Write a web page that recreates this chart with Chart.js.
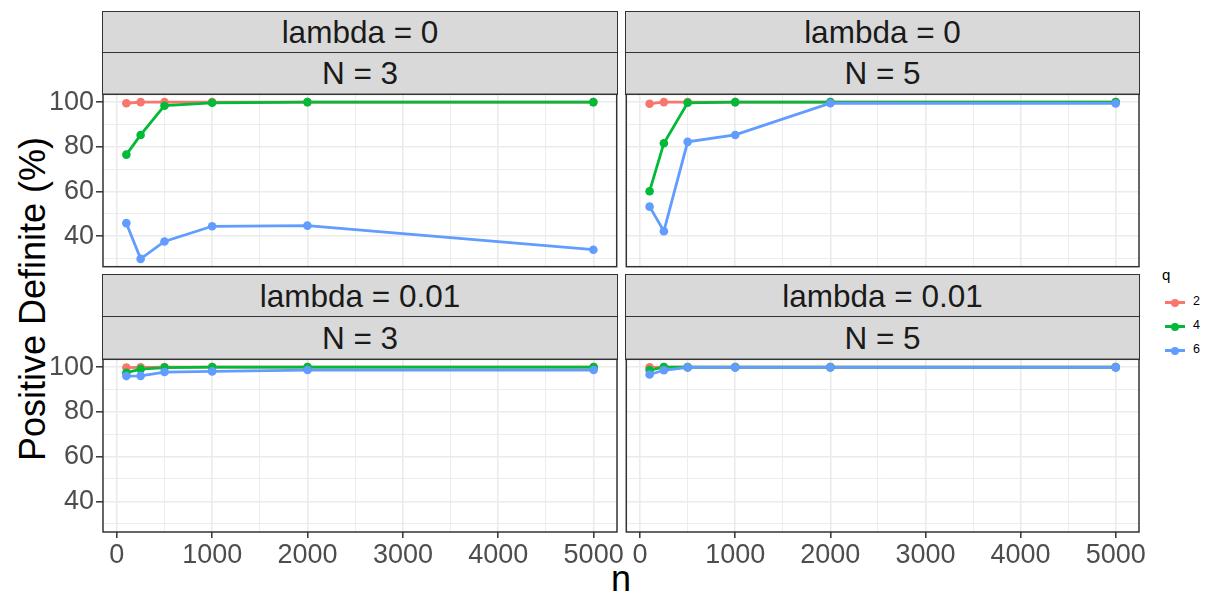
<!DOCTYPE html>
<html>
<head>
<meta charset="utf-8">
<script src="https://cdn.jsdelivr.net/npm/chart.js@4.4.0/dist/chart.umd.min.js"></script>
<style>
  body { margin: 0; background: #fff; width: 1205px; height: 596px; position: relative; overflow: hidden;
         font-family: "Liberation Sans", Arial, sans-serif; }
  canvas { position: absolute; }
  .strip { position: absolute; background: #D9D9D9; border: 1.5px solid #333; box-sizing: border-box;
           color: #1A1A1A; font-size: 31.5px; display: flex; align-items: center; justify-content: center; }
  .title { position: absolute; color: #000; font-size: 36px; white-space: nowrap; }
  .legend { position: absolute; left: 1158px; top: 266px; font-size: 12.5px; color: #000; }
  .legend .lt { font-size: 15px; margin-left: 4px; margin-bottom: 8px; }
  .legend .item { position: relative; height: 24px; }
  .legend .ln { position: absolute; left: 7px; top: 10px; width: 20px; height: 3px; }
  .legend .pt { position: absolute; left: 13px; top: 7.5px; width: 8px; height: 8px; border-radius: 50%; }
  .legend .lb { position: absolute; left: 35px; top: 3px; }
</style>
</head>
<body>
<div class="title" style="left:33px; top:299px; transform: translate(-50%,-50%) rotate(-90deg);">Positive Definite (%)</div>
<div class="title" style="left:621px; top:579px; transform: translate(-50%,-50%);">n</div>
<div class="legend" id="legend"><div class="lt">q</div></div>
<script>
// sample sizes on the x axis
const nValues = [100, 250, 500, 1000, 2000, 5000];
const qLevels = ['2', '4', '6'];
const qColors = ['#F8766D', '#00BA38', '#619CFF'];
const lambdaLabels = ['lambda = 0', 'lambda = 0.01'];
const NLabels = ['N = 3', 'N = 5'];

const xMajor = [0, 1000, 2000, 3000, 4000, 5000];
const xMinor = [500, 1500, 2500, 3500, 4500];
const yMajor = [40, 60, 80, 100];
const yMinor = [30, 50, 70, 90];

// lambda = 0, N = 3
const l0n3q2 = [99.5, 100, 100, 100, 100, 100];
const l0n3q4 = [76.5, 85.3, 98.4, 99.7, 100, 100];
const l0n3q6 = [45.8, 29.8, 37.6, 44.4, 44.7, 33.9];
// lambda = 0, N = 5
const l0n5q2 = [99.3, 100, 100, 100, 100, 100];
const l0n5q4 = [60.1, 81.6, 99.7, 100, 100, 100];
const l0n5q6 = [53.2, 42.2, 82.2, 85.3, 99.5, 99.4];
// lambda = 0.01, N = 3
const l1n3q2 = [99.8, 99.9, 100, 100, 100, 100];
const l1n3q4 = [97.5, 99.1, 99.8, 100, 100, 100];
const l1n3q6 = [96.0, 96.1, 97.8, 98.1, 98.7, 98.7];
// lambda = 0.01, N = 5
const l1n5q2 = [99.9, 100, 100, 100, 100, 100];
const l1n5q4 = [98.7, 100, 100, 100, 100, 100];
const l1n5q6 = [96.7, 98.6, 99.9, 99.9, 99.9, 99.9];

const panels = [
  { row: 0, col: 0, lambda: lambdaLabels[0], N: NLabels[0], series: [l0n3q2, l0n3q4, l0n3q6] },
  { row: 0, col: 1, lambda: lambdaLabels[0], N: NLabels[1], series: [l0n5q2, l0n5q4, l0n5q6] },
  { row: 1, col: 0, lambda: lambdaLabels[1], N: NLabels[0], series: [l1n3q2, l1n3q4, l1n3q6] },
  { row: 1, col: 1, lambda: lambdaLabels[1], N: NLabels[1], series: [l1n5q2, l1n5q4, l1n5q6] }
];

// panel geometry (px)
const colX = [[103, 617], [626, 1139]];
const rowY = [[12, 94, 267], [275, 359, 532]];

Chart.defaults.font.family = "'Liberation Sans', Arial, sans-serif";
Chart.defaults.animation = false;

const borderPlugin = {
  id: 'panelBorder',
  afterDraw: (chart) => {
    const a = chart.chartArea;
    const ctx = chart.ctx;
    ctx.save();
    ctx.strokeStyle = '#333333';
    ctx.lineWidth = 1.5;
    ctx.strokeRect(a.left, a.top, a.right - a.left, a.bottom - a.top);
    ctx.restore();
  }
};

const gridColor = '#EBEBEB';

const makePanel = (p) => {
  const [L, R] = colX[p.col];
  const [stripTop, plotTop, plotBottom] = rowY[p.row];
  const sh = (plotTop - stripTop) / 2;

  // strips
  [p.lambda, p.N].forEach((txt, i) => {
    const s = document.createElement('div');
    s.className = 'strip';
    s.style.left = (L - 0.75) + 'px';
    s.style.width = (R - L + 1.5) + 'px';
    s.style.top = (stripTop + i * sh - 0.75) + 'px';
    s.style.height = (sh + 1.5) + 'px';
    s.textContent = txt;
    document.body.appendChild(s);
  });

  const cl = p.col === 0 ? 0 : L - 4;
  const cr = p.col === 0 ? (p.row === 1 ? 632 : R + 4) : 1152;
  const ct = plotTop - 4;
  const cb = p.row === 1 ? 572 : plotBottom + 4;

  const canvas = document.createElement('canvas');
  canvas.width = cr - cl;
  canvas.height = cb - ct;
  canvas.style.left = cl + 'px';
  canvas.style.top = ct + 'px';
  document.body.appendChild(canvas);

  const datasets = [];
  p.series.forEach((vals, i) => {
    const pts = nValues.map((n, j) => ({ x: n, y: vals[j] }));
    datasets.push({
      label: qLevels[i], data: pts, borderColor: qColors[i], borderWidth: 2.8,
      pointRadius: 0, fill: false, tension: 0, order: 6 - i
    });
    datasets.push({
      label: qLevels[i], data: pts, showLine: false, pointRadius: 4.3, pointBorderWidth: 0,
      pointBackgroundColor: qColors[i], backgroundColor: qColors[i], order: 3 - i
    });
  });

  new Chart(canvas, {
    type: 'line',
    plugins: [borderPlugin],
    data: { datasets: datasets },
    options: {
      responsive: false,
      layout: { padding: { left: p.col === 0 ? 0 : L - cl, right: cr - R, top: plotTop - ct, bottom: p.row === 0 ? cb - plotBottom : 0 } },
      plugins: { legend: { display: false }, tooltip: { enabled: false } },
      scales: {
        x: {
          type: 'linear', min: -145, max: 5245,
          afterBuildTicks: (s) => { s.ticks = [...xMajor, ...xMinor].sort((a, b) => a - b).map(v => ({ value: v })); },
          afterFit: (s) => { s.height = p.row === 1 ? cb - plotBottom : 0; s.paddingLeft = 0; s.paddingRight = 0; },
          border: { display: false },
          grid: {
            color: gridColor,
            lineWidth: (c) => xMajor.includes(c.tick.value) ? 1.6 : 0.9,
            drawTicks: p.row === 1, tickLength: 6, tickWidth: 1.5,
            tickColor: (c) => xMajor.includes(c.tick.value) ? '#333333' : 'rgba(0,0,0,0)'
          },
          ticks: {
            display: p.row === 1, autoSkip: false, maxRotation: 0, padding: 1,
            color: '#4D4D4D', font: { size: 27 },
            callback: (v) => xMajor.includes(v) ? String(v) : ''
          }
        },
        y: {
          type: 'linear', min: 26.3, max: 103.5,
          afterBuildTicks: (s) => { s.ticks = [...yMajor, ...yMinor].sort((a, b) => a - b).map(v => ({ value: v })); },
          afterFit: (s) => { s.width = p.col === 0 ? L : 0; s.paddingTop = 0; s.paddingBottom = 0; },
          border: { display: false },
          grid: {
            color: gridColor,
            lineWidth: (c) => yMajor.includes(c.tick.value) ? 1.6 : 0.9,
            drawTicks: p.col === 0, tickLength: 7, tickWidth: 1.5,
            tickColor: (c) => yMajor.includes(c.tick.value) ? '#333333' : 'rgba(0,0,0,0)'
          },
          ticks: {
            display: p.col === 0, autoSkip: false, padding: 2,
            color: '#4D4D4D', font: { size: 27 },
            callback: (v) => yMajor.includes(v) ? String(v) : ''
          }
        }
      }
    }
  });
};

panels.forEach(makePanel);

// legend
const legend = document.getElementById('legend');
qLevels.forEach((q, i) => {
  const it = document.createElement('div');
  it.className = 'item';
  it.innerHTML = '<div class="ln" style="background:' + qColors[i] + '"></div>' +
                 '<div class="pt" style="background:' + qColors[i] + '"></div>' +
                 '<div class="lb">' + q + '</div>';
  legend.appendChild(it);
});
</script>
</body>
</html>
